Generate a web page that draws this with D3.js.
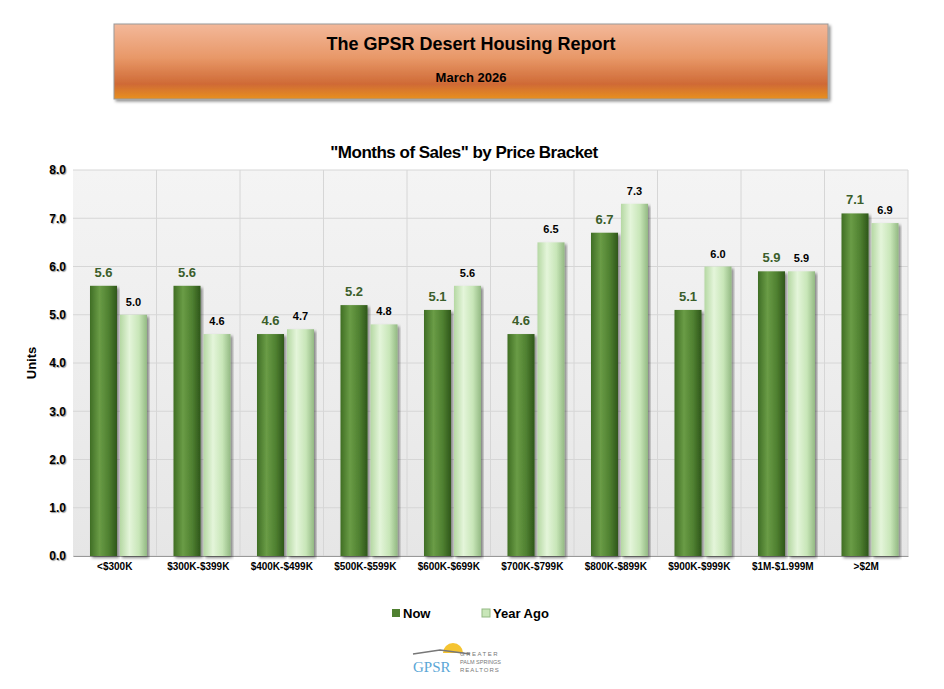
<!DOCTYPE html>
<html><head><meta charset="utf-8">
<script src="https://cdn.jsdelivr.net/npm/d3@7"></script>
<style>body{margin:0;background:#fff;font-family:Arial,"Liberation Sans",sans-serif}</style>
</head><body>
<svg id="c" width="944" height="689"></svg>
<script>
const categories=["<$300K","$300K-$399K","$400K-$499K","$500K-$599K","$600K-$699K","$700K-$799K","$800K-$899K","$900K-$999K","$1M-$1.999M",">$2M"];
const nowValues=[5.6,5.6,4.6,5.2,5.1,4.6,6.7,5.1,5.9,7.1];
const yearAgoValues=[5.0,4.6,4.7,4.8,5.6,6.5,7.3,6.0,5.9,6.9];
const yTicks=[0,1,2,3,4,5,6,7,8];
const svg=d3.select("#c");
const defs=svg.append("defs");
function grad(id,stops,vertical){const g=defs.append("linearGradient").attr("id",id);
 if(vertical)g.attr("x1",0).attr("y1",0).attr("x2",0).attr("y2",1);
 stops.forEach(s=>g.append("stop").attr("offset",s[0]).attr("stop-color",s[1]));}
grad("hdr",[[0,"#f3b89a"],[0.45,"#e89868"],[0.8,"#cf6a36"],[1,"#e8901e"]],true);
grad("plot",[[0,"#f4f4f4"],[1,"#e6e6e6"]],true);
grad("gNow",[[0,"#3f6e24"],[0.35,"#6a9c46"],[0.7,"#4f8030"],[1,"#2e561a"]]);
grad("gYa",[[0,"#b5d8a3"],[0.35,"#e4f5da"],[0.7,"#c8e6b8"],[1,"#93b983"]]);
defs.append("filter").attr("id","sh").append("feDropShadow").attr("dx",2).attr("dy",2).attr("stdDeviation",1.5).attr("flood-opacity",0.45);
// header
svg.append("rect").attr("x",114).attr("y",24).attr("width",714).attr("height",75).attr("fill","url(#hdr)").attr("stroke","#999").attr("filter","url(#sh)");
svg.append("text").attr("x",471).attr("y",50).attr("text-anchor","middle").attr("font-size",18).attr("font-weight","bold").text("The GPSR Desert Housing Report");
svg.append("text").attr("x",471).attr("y",82).attr("text-anchor","middle").attr("font-size",13).attr("font-weight","bold").text("March 2026");
const L=73,R=908,T=170,B=556;
svg.append("text").attr("x",464).attr("y",158).attr("text-anchor","middle").attr("font-size",17).attr("font-weight","bold").attr("letter-spacing","-0.5").text('"Months of Sales" by Price Bracket');
const x=d3.scaleBand().domain(categories).range([L,R]);
const y=d3.scaleLinear().domain([0,8]).range([B,T]);
svg.append("rect").attr("x",L).attr("y",T).attr("width",R-L).attr("height",B-T).attr("fill","url(#plot)");
svg.append("g").selectAll("line").data(yTicks).join("line").attr("x1",L).attr("x2",R).attr("y1",d=>y(d)).attr("y2",d=>y(d)).attr("stroke","#d6d6d6");
svg.append("g").selectAll("line").data(categories.slice(1).concat([null])).join("line").attr("x1",(d,i)=>L+(i+1)*x.bandwidth()).attr("x2",(d,i)=>L+(i+1)*x.bandwidth()).attr("y1",T).attr("y2",B).attr("stroke","#d6d6d6");
const ya=svg.append("g").attr("transform",`translate(${L-4},0)`).call(d3.axisLeft(y).tickValues(yTicks).tickFormat(d3.format(".1f")).tickSize(0));
ya.select(".domain").remove();
ya.selectAll("text").attr("font-size",12).attr("font-weight","bold").attr("fill","#000").style("text-shadow","1px 1px 1px #999");
const xa=svg.append("g").attr("transform",`translate(0,${B})`).call(d3.axisBottom(x).tickSize(0));
xa.select(".domain").attr("stroke","#999");
xa.selectAll("text").attr("dy","1.1em").attr("font-size",10).attr("font-weight","bold").attr("fill","#000");
svg.append("text").attr("transform",`translate(36,${(T+B)/2}) rotate(-90)`).attr("text-anchor","middle").attr("font-size",13).attr("font-weight","bold").text("Units");
const bw=27;
const g=svg.append("g");
categories.forEach((c,i)=>{
 const x0=x(c)+17;
 g.append("rect").attr("x",x0).attr("y",y(nowValues[i])).attr("width",bw).attr("height",B-y(nowValues[i])).attr("fill","url(#gNow)").attr("filter","url(#sh)");
 g.append("rect").attr("x",x0+30).attr("y",y(yearAgoValues[i])).attr("width",bw).attr("height",B-y(yearAgoValues[i])).attr("fill","url(#gYa)").attr("filter","url(#sh)");
 g.append("text").attr("x",x0+bw/2).attr("y",y(nowValues[i])-9).attr("text-anchor","middle").attr("font-size",13).attr("font-weight","bold").attr("fill","#3b5e2b").text(nowValues[i].toFixed(1));
 g.append("text").attr("x",x0+30+bw/2).attr("y",y(yearAgoValues[i])-9).attr("text-anchor","middle").attr("font-size",11).attr("font-weight","bold").attr("fill","#000").text(yearAgoValues[i].toFixed(1));
});
// legend
const lg=svg.append("g");
lg.append("rect").attr("x",392).attr("y",609).attr("width",8).attr("height",8).attr("fill","#4f8030");
lg.append("text").attr("x",403).attr("y",618).attr("font-size",13).attr("font-weight","bold").text("Now");
lg.append("rect").attr("x",482).attr("y",609).attr("width",8).attr("height",8).attr("fill","#c8e6b8").attr("stroke","#93b983");
lg.append("text").attr("x",493).attr("y",618).attr("font-size",13).attr("font-weight","bold").text("Year Ago");
// logo
const lo=svg.append("g");
lo.append("path").attr("d","M443,653 A10,10 0 0 1 463,653 Z").attr("fill","#f5c431");
lo.append("path").attr("d","M413,654 L440,650 L470,654").attr("fill","none").attr("stroke","#777").attr("stroke-width",1.5);
lo.append("text").attr("x",413).attr("y",672).attr("font-size",15).attr("fill","#5aa6d6").attr("font-family","Liberation Serif,serif").text("GPSR");
lo.append("text").attr("x",460).attr("y",656).attr("font-size",6).attr("fill","#777").attr("letter-spacing","1.5").text("GREATER");
lo.append("text").attr("x",460).attr("y",664).attr("font-size",5.5).attr("fill","#777").text("PALM SPRINGS");
lo.append("text").attr("x",460).attr("y",672).attr("font-size",6).attr("fill","#777").attr("letter-spacing","1").text("REALTORS");
</script></body></html>
